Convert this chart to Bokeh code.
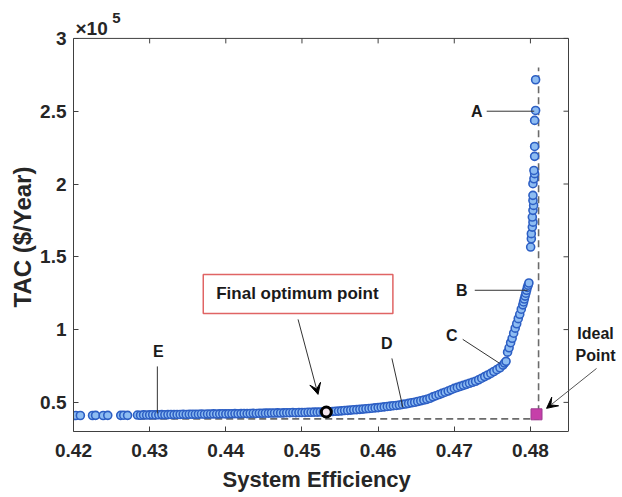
from bokeh.plotting import figure
from bokeh.models import Range1d, FixedTicker, Label, Arrow, VeeHead, Title
from bokeh.embed import file_html
from bokeh.resources import INLINE

# ---------------- data ----------------
eff_main = [0.4203, 0.4209, 0.4225, 0.4229, 0.4239, 0.4245, 0.4262, 0.4266, 0.4271,
            0.4284, 0.4288, 0.4292, 0.4296, 0.4300, 0.4304, 0.4308, 0.4312, 0.4316, 0.4320,
            0.4324, 0.4328, 0.4332, 0.4336, 0.4340, 0.4344, 0.4348, 0.4352, 0.4356, 0.4360,
            0.4364, 0.4368, 0.4372, 0.4376, 0.4380, 0.4384, 0.4388, 0.4392, 0.4396, 0.4400,
            0.4404, 0.4408, 0.4412, 0.4416, 0.4420, 0.4424, 0.4428, 0.4432, 0.4436, 0.4440,
            0.4444, 0.4448, 0.4452, 0.4456, 0.4460, 0.4464, 0.4468, 0.4472, 0.4476, 0.4480,
            0.4484, 0.4488, 0.4492, 0.4496, 0.4500, 0.4504, 0.4508, 0.4512, 0.4516, 0.4520,
            0.4524, 0.4528, 0.4536, 0.4540, 0.4544, 0.4548, 0.4552, 0.4556, 0.4560,
            0.4564, 0.4568, 0.4572, 0.4576, 0.4580, 0.4584, 0.4588, 0.4592, 0.4596, 0.4600,
            0.4604, 0.4608, 0.4612, 0.4616, 0.4620, 0.4624, 0.4628, 0.4632, 0.4636, 0.4640,
            0.4644, 0.4648, 0.4652, 0.4656, 0.4660, 0.4664, 0.4668, 0.4672, 0.4676, 0.4680,
            0.4684, 0.4688, 0.4692, 0.4696, 0.4700, 0.4704, 0.4708, 0.4712, 0.4716, 0.4720,
            0.4724, 0.4728, 0.4732, 0.4736, 0.4740, 0.4744, 0.4748, 0.4752, 0.4756, 0.4760,
            0.4764, 0.4766, 0.4768]
tac_main = [41000, 41000, 41000, 41100, 41000, 41100, 41100, 41200, 41100,
            41300, 41200, 41400, 41300, 41400, 41500, 41400, 41500, 41600, 41500,
            41600, 41700, 41600, 41700, 41700, 41800, 41700, 41800, 41900, 41800,
            41900, 42000, 41900, 42000, 42000, 42100, 42000, 42100, 42200, 42100,
            42200, 42200, 42300, 42200, 42300, 42400, 42300, 42400, 42500, 42400,
            42500, 42500, 42600, 42600, 42700, 42700, 42800, 42700, 42800, 42900,
            42900, 43000, 42900, 43000, 43100, 43100, 43200, 43200, 43300, 43300,
            43400, 43400, 43600, 43700, 43900, 44000, 44200, 44400, 44500,
            44700, 44900, 45000, 45200, 45400, 45600, 45800, 46000, 46200, 46400,
            46700, 46900, 47200, 47400, 47700, 47900, 48200, 48600, 48900, 49300,
            49700, 50100, 50600, 51100, 51600, 52100, 52800, 53800, 54600, 55400,
            56200, 57000, 57800, 58700, 59600, 60300, 61000, 61700, 62400, 63100,
            63800, 64500, 65500, 66600, 67700, 68800, 69900, 71200, 72500, 73800,
            75600, 77000, 78200]

eff_upper = [0.4770, 0.4772, 0.4774, 0.4776, 0.4778, 0.4780, 0.4782, 0.4784, 0.4786, 0.4788,
             0.4790, 0.4791, 0.4792, 0.4793, 0.4794, 0.4795, 0.4796, 0.4797, 0.4798]
tac_upper = [84500, 87500, 91000, 94000, 97500, 101000, 104000, 107500, 110500, 114000,
             117000, 119000, 121000, 123000, 125000, 127000, 129000, 130500, 132000]

eff_cluster = [0.48003, 0.48012, 0.48012, 0.48025, 0.48033, 0.48025, 0.48033, 0.48042, 0.48033, 0.48033,
               0.48033, 0.48046, 0.48055, 0.48046, 0.48055, 0.48055, 0.48055, 0.48068, 0.48068]
tac_cluster = [156700, 162400, 165900, 170400, 173800, 177300, 181900, 185300, 188700, 192200,
               200200, 203600, 207100, 209300, 219000, 225800, 243700, 250500, 271600]

opt_eff, opt_tac = 0.4532, 43400          # final optimum point
ideal_eff, ideal_tac = 0.4808, 41800      # ideal point
ref_eff, ref_tac = 0.48107, 38700         # dashed reference lines
ref_eff_start, ref_tac_top = 0.4285, 280000

x_lo, x_hi = 0.42, 0.485
y_lo, y_hi = 30000, 300000
x_ticks = [0.42, 0.43, 0.44, 0.45, 0.46, 0.47, 0.48]
x_tick_labels = ["0.42", "0.43", "0.44", "0.45", "0.46", "0.47", "0.48"]
y_ticks = [50000, 100000, 150000, 200000, 250000, 300000]
y_tick_labels = ["0.5", "1", "1.5", "2", "2.5", "3"]

FONT = "Liberation Sans"
AX = "#404040"
PX_X = (x_hi - x_lo) / 495.0      # data units per pixel
PX_Y = (y_hi - y_lo) / 394.0

# frame extends to the right and top canvas edges so outside annotations can be drawn;
# the visible axes box is limited to [x_lo, x_hi] x [y_lo, y_hi]
p = figure(width=622, height=497, output_backend="svg", toolbar_location=None,
           x_range=Range1d(x_lo, x_hi + 54 * PX_X), y_range=Range1d(y_lo, y_hi + 38 * PX_Y),
           min_border_left=73, min_border_right=0, min_border_top=0, min_border_bottom=65)
p.xgrid.visible = False
p.ygrid.visible = False
p.outline_line_color = None

def style_axis(ax, ticks, labels):
    ax.ticker = FixedTicker(ticks=ticks, minor_ticks=[])
    ax.major_tick_in = 5
    ax.major_tick_out = 0
    ax.minor_tick_in = 0
    ax.minor_tick_out = 0
    ax.axis_line_color = AX
    ax.major_tick_line_color = AX
    ax.major_label_overrides = {t: l for t, l in zip(ticks, labels)}
    ax.major_label_text_font = FONT
    ax.major_label_text_font_style = "bold"
    ax.major_label_text_font_size = "19px"
    ax.major_label_text_color = "#262626"

style_axis(p.xaxis[0], x_ticks, x_tick_labels)
style_axis(p.yaxis[0], y_ticks, y_tick_labels)
p.xaxis.bounds = (x_lo, x_hi)
p.yaxis.bounds = (y_lo, y_hi)
p.xaxis.major_label_standoff = 12
p.yaxis.major_label_standoff = 7

# axis titles (positioned relative to the visible box)
p.add_layout(Title(text="System Efficiency", align="left", offset=149, standoff=11,
                   text_font=FONT, text_font_style="bold", text_font_size="22px",
                   text_color="#262626"), "below")
p.add_layout(Title(text="TAC ($/Year)", align="left", offset=124, standoff=3,
                   text_font=FONT, text_font_style="bold", text_font_size="24px",
                   text_color="#262626"), "left")

# box: right and top edges with inward ticks
p.line([x_hi, x_hi], [y_lo, y_hi], line_color=AX, line_width=1)
p.line([x_lo, x_hi], [y_hi, y_hi], line_color=AX, line_width=1)
p.segment(x0=x_ticks, y0=[y_hi] * len(x_ticks), x1=x_ticks, y1=[y_hi - 5 * PX_Y] * len(x_ticks),
          line_color=AX, line_width=1)
p.segment(x0=[x_hi] * len(y_ticks), y0=y_ticks, x1=[x_hi - 5 * PX_X] * len(y_ticks), y1=y_ticks,
          line_color=AX, line_width=1)

# dashed reference lines
p.line([ref_eff_start, ref_eff, ref_eff], [ref_tac, ref_tac, ref_tac_top],
       line_color="#6b6b6b", line_width=1.6, line_dash="7 4")

# Pareto front
pt = dict(size=8, line_color="#2d5fc4", fill_color="#8dbcf2", line_width=1.6)
p.scatter(eff_main, tac_main, **pt)
p.scatter(eff_upper, tac_upper, **pt)
p.scatter(eff_cluster, tac_cluster, **pt)

# optimum & ideal points
p.scatter([opt_eff], [opt_tac], size=10, line_color="black", line_width=3, fill_color="#f6e6ee")
p.scatter([ideal_eff], [ideal_tac], marker="square", size=11, line_color="#9b3a8f",
          line_width=1, fill_color="#c63fa9")

# final optimum box
p.quad(left=[0.43704], right=[0.46194], bottom=[111100], top=[137900],
       fill_color="white", line_color="#e06464", line_width=1.5)

def lab(x, y, text, size="16px", align="center", color="#1a1a1a"):
    p.add_layout(Label(x=x, y=y, text=text, text_font=FONT, text_font_style="bold",
                       text_font_size=size, text_align=align, text_baseline="middle",
                       text_color=color))

lab(0.4494, 124500, "Final optimum point", "17px")
lab(0.47295, 250000, "A")
lab(0.47098, 127000, "B")
lab(0.46967, 96000, "C")
lab(0.46115, 90500, "D")
lab(0.43114, 85000, "E")
lab(0.48855, 97400, "Ideal")
lab(0.48855, 82300, "Point")

# exponent of the y axis
lab(x_lo + 2 * PX_X, y_hi + 10 * PX_Y, "\u00d710", "19px", "left", "#262626")
lab(x_lo + 43 * PX_X, y_hi + 20 * PX_Y, "5", "15px", "center", "#262626")

# leader lines
p.segment(x0=[0.47426, 0.47269, 0.47111, 0.46181, 0.43101],
          y0=[250000, 127000, 93300, 80200, 74700],
          x1=[0.48050, 0.47963, 0.47596, 0.46325, 0.43101],
          y1=[250000, 127000, 76800, 46600, 42400],
          line_color="#333333", line_width=1)

p.add_layout(Arrow(end=VeeHead(size=11, fill_color="black", line_color="black"),
                   x_start=0.44949, y_start=107000, x_end=0.45211, y_end=55500,
                   line_color="#333333", line_width=1))
p.add_layout(Arrow(end=VeeHead(size=11, fill_color="black", line_color="black"),
                   x_start=0.48868, y_start=73300, x_end=0.48212, y_end=45900,
                   line_color="#555555", line_width=1))

open("out.html", "w").write(file_html(p, INLINE))
